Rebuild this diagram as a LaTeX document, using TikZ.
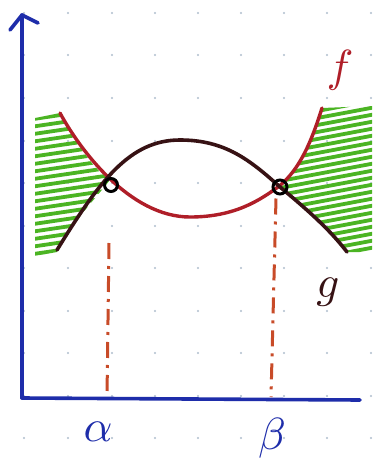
\documentclass[tikz,border=0pt]{standalone}
\begin{document}
\definecolor{axisblue}{RGB}{30,45,170}
\definecolor{fred}{RGB}{175,30,40}
\definecolor{gbrown}{RGB}{55,18,20}
\definecolor{hgreen}{RGB}{75,180,35}
\definecolor{dashorange}{RGB}{200,75,40}
\definecolor{griddot}{RGB}{175,190,205}
\begin{tikzpicture}[x=1pt,y=-1pt,
  axis/.style={draw=axisblue,line width=3.6pt,line cap=round,line join=round},
  fcurve/.style={draw=fred,line width=3.4pt,line cap=round},
  gcurve/.style={draw=gbrown,line width=3.6pt,line cap=round},
  hatch/.style={draw=hgreen,line width=3.8pt,line cap=round},
  guide/.style={draw=dashorange,line width=3pt,dash pattern=on 16pt off 7pt on 3pt off 7pt},
  meet/.style={draw=black,line width=3pt,circle,minimum size=13pt,inner sep=0pt},
  lbl/.style={scale=4.5,inner sep=0pt}]
\useasboundingbox (0,0) rectangle (376,469);
\fill[white] (0,0) rectangle (376,469);
% dot grid
\foreach \x in {24,68,112,155,198,241,284,327,371}
  \foreach \y in {13,55,98,141,183,226,268,311,353,396,438}
    \fill[griddot] (\x,\y) circle (1.2);
% hatching left
\begin{scope}
  \clip (35,118) -- (60,113) .. controls (80,150) and (95,170) .. (110,180) .. controls (90,205) and (70,225) .. (57,252) -- (35,256) -- cycle;
  \foreach \i in {0,...,21}
    \draw[hatch] (30,112+7.5*\i) -- (125,98+7.5*\i);
\end{scope}
% hatching right
\begin{scope}
  \clip (278,187) .. controls (300,170) and (312,140) .. (322,108) -- (372,106) -- (372,252) -- (348,252) .. controls (330,230) and (310,212) .. (278,187) -- cycle;
  \foreach \i in {0,...,24}
    \draw[hatch] (280,118+7*\i) -- (376,100+7*\i);
\end{scope}
% axes
\coordinate (O) at (22,398);
\coordinate (ytop) at (22,15);
\coordinate (xend) at (360,400);
\draw[axis] (O) -- (ytop);
\draw[axis] (O) -- (xend);
\draw[axis] (10,30) -- (ytop) -- (38,23);
% curves
\draw[fcurve] (60,113) .. controls (80,150) and (130,217) .. (190,217) .. controls (235,217) and (260,200) .. (278,187) .. controls (300,170) and (312,140) .. (322,108);
\draw[gcurve] (57,250) .. controls (100,180) and (130,140) .. (180,140) .. controls (225,140) and (250,160) .. (280,187) .. controls (310,212) and (330,230) .. (347,252);
% intersections
\node[meet] (A) at (111,185) {};
\node[meet,minimum size=14pt] (B) at (280,187) {};
% guides
\coordinate (Aa) at (107,397);
\coordinate (Bb) at (271,397);
\draw[guide] (A.south)++(-2,50) -- (Aa);
\draw[guide] (B.south)++(-4,3) -- (Bb);
% labels
\node[lbl,text=fred] (f) at (340,70) {$f$};
\node[lbl,text=gbrown] (g) at (328,292) {$g$};
\node[lbl,text=axisblue] (al) at (98,432) {$\alpha$};
\node[lbl,text=axisblue] (be) at (272,438) {$\beta$};
\end{tikzpicture}
\end{document}
